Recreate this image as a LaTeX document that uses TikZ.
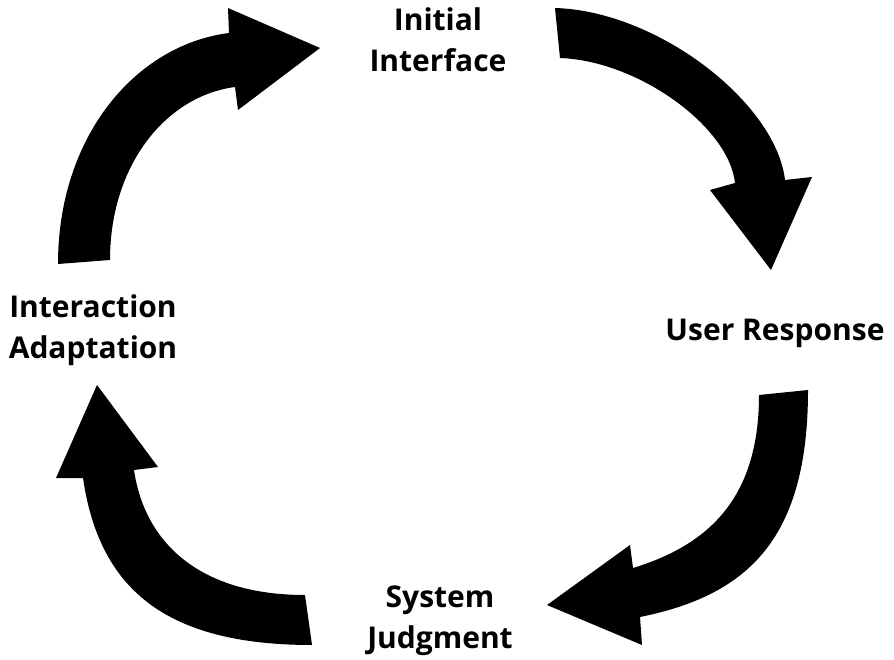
\documentclass[tikz,border=0pt]{standalone}
\usepackage{fontspec}
\setmainfont{Open Sans}
\begin{document}
\begin{tikzpicture}[x=1pt,y=-1pt,
  fatarrow/.style={fill=black,draw=none},
  lbl/.style={font=\fontsize{30}{41}\selectfont\bfseries,align=center,inner sep=0pt,text=black}]
\fill[white] (0,0) rectangle (894,660);
\useasboundingbox (0,0) rectangle (894,660);
% labels
\node[lbl] (init) at (438,40) {Initial\\Interface};
\node[lbl] (user) at (775,333) {User Response};
\node[lbl] (judg) at (440,621) {System\\Judgment};
\node[lbl] (adap) at (93,330) {Interaction\\Adaptation};
% arrows
\path[fatarrow] (58,264) .. controls (58,137) and (135,45) .. (229,33)
  -- (228,8) -- (320,48) -- (238,110) -- (235,87)
  .. controls (166,96) and (110,165) .. (110,260) -- cycle;
\path[fatarrow] (555,8) .. controls (658,11) and (776,103) .. (785,180)
  -- (812,177) -- (771,270) -- (710,190) -- (735,183)
  .. controls (729,127) and (639,61) .. (560,58) -- cycle;
\path[fatarrow] (808,390) .. controls (808,538) and (749,595) .. (640,617)
  -- (642,645) -- (547,605) -- (630,545) -- (633,568)
  .. controls (708,545) and (759,499) .. (759,395) -- cycle;
\path[fatarrow] (312,645) .. controls (163,645) and (99,587) .. (83,478)
  -- (56,478) -- (97,385) -- (158,467) -- (134,470)
  .. controls (145,545) and (202,595) .. (305,595) -- cycle;
\end{tikzpicture}
\end{document}
